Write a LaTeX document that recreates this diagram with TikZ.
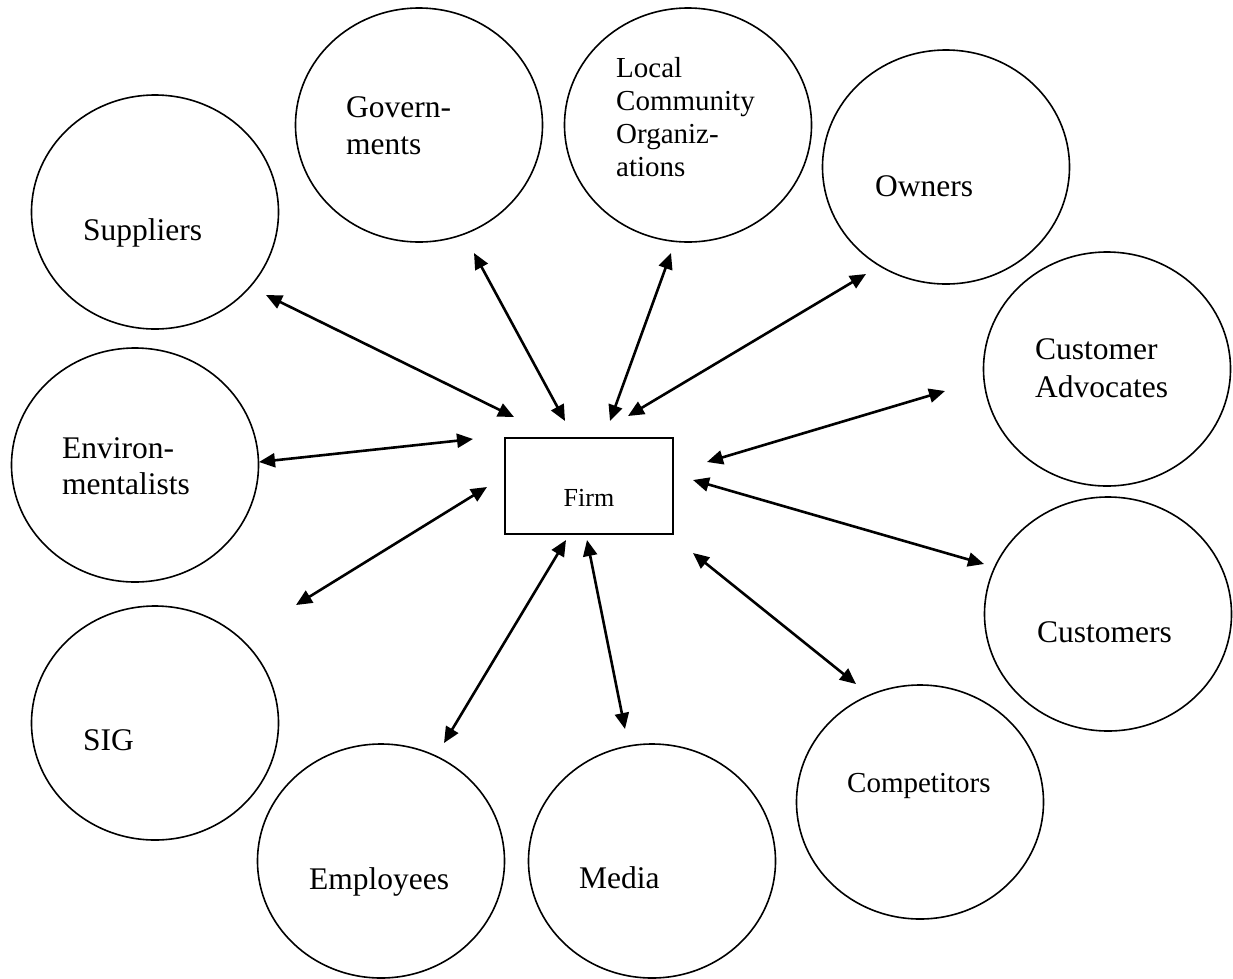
\documentclass[tikz,border=0pt]{standalone}
\usepackage{fontspec}
\setmainfont{Liberation Serif}
\usetikzlibrary{shapes.geometric,arrows.meta}
\begin{document}
\begin{tikzpicture}[x=1pt,y=-1pt,
  stake/.style={draw,ellipse,line width=1.6pt,minimum width=247pt,minimum height=234pt,inner sep=0pt},
  firmbox/.style={draw,rectangle,line width=2.2pt,minimum width=168pt,minimum height=96pt,inner sep=0pt},
  lbl/.style={anchor=base west,inner sep=0pt,font=\fontsize{31.5}{37}\selectfont},
  smalllbl/.style={anchor=base west,inner sep=0pt,font=\fontsize{29}{33}\selectfont},
  biarrow/.style={line width=2.6pt,{Triangle[length=16pt,width=14pt]}-{Triangle[length=16pt,width=14pt]}}]
\useasboundingbox (0,0) rectangle (1233,978);

% stakeholder ovals
\node[stake] (sup) at (155,212) {};
\node[stake] (gov) at (419,125) {};
\node[stake] (loc) at (688,125) {};
\node[stake] (own) at (946,167) {};
\node[stake] (adv) at (1107,369) {};
\node[stake] (env) at (135,465) {};
\node[stake] (cus) at (1108,614) {};
\node[stake] (sig) at (155,723) {};
\node[stake] (com) at (920,802) {};
\node[stake] (emp) at (381,861) {};
\node[stake] (med) at (652,861) {};

% firm
\node[firmbox] (firm) at (589,486) {};
\node[anchor=base,inner sep=0pt,font=\fontsize{26}{30}\selectfont] (firmtxt) at (589,506) {Firm};

% labels
\node[lbl] (supt) at (83,240) {Suppliers};
\node[lbl] (govt1) at (346,117) {Govern-};
\node[lbl] (govt2) at (346,154) {ments};
\node[smalllbl] (loct1) at (616,77) {Local};
\node[smalllbl] (loct2) at (616,110) {Community};
\node[smalllbl] (loct3) at (616,143) {Organiz-};
\node[smalllbl] (loct4) at (616,176) {ations};
\node[lbl] (ownt) at (875,196) {Owners};
\node[lbl] (advt1) at (1035,359) {Customer};
\node[lbl] (advt2) at (1035,397) {Advocates};
\node[lbl] (envt1) at (62,458) {Environ-};
\node[lbl] (envt2) at (62,494) {mentalists};
\node[lbl] (cust) at (1037,642) {Customers};
\node[lbl] (sigt) at (83,750) {SIG};
\node[smalllbl] (comt) at (847,792) {Competitors};
\node[lbl] (empt) at (309,889) {Employees};
\node[lbl] (medt) at (579,888) {Media};

% arrow end points
\coordinate (a-sup) at (266,295);  \coordinate (b-sup) at (514,417);
\coordinate (a-gov) at (474,253);  \coordinate (b-gov) at (565,421);
\coordinate (a-loc) at (671,253);  \coordinate (b-loc) at (610,421);
\coordinate (a-own) at (866,274);  \coordinate (b-own) at (628,416);
\coordinate (a-adv) at (945,391);  \coordinate (b-adv) at (707,462);
\coordinate (a-env) at (259,462);  \coordinate (b-env) at (473,439);
\coordinate (a-sig) at (296,605);  \coordinate (b-sig) at (487,487);
\coordinate (a-emp) at (444,743);  \coordinate (b-emp) at (566,540);
\coordinate (a-med) at (625,729);  \coordinate (b-med) at (587,540);
\coordinate (a-com) at (856,684);  \coordinate (b-com) at (693,553);
\coordinate (a-cus) at (984,564);  \coordinate (b-cus) at (693,480);

\foreach \n in {sup,gov,loc,own,adv,env,sig,emp,med,com,cus}
  \draw[biarrow] (a-\n) -- (b-\n);
\end{tikzpicture}
\end{document}
